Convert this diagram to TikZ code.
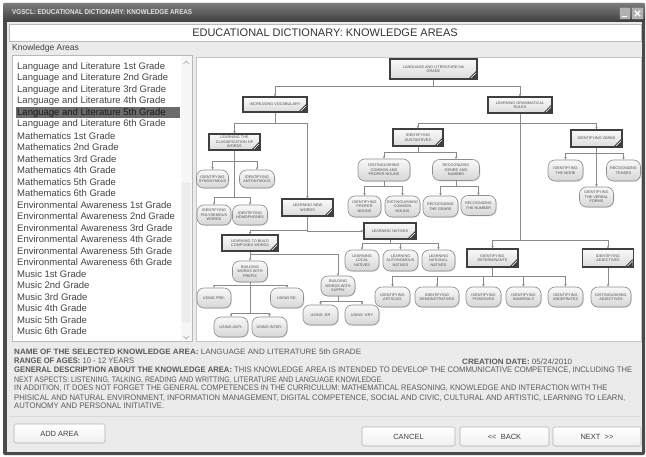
\documentclass[tikz,border=0pt]{standalone}
\usepackage{fontspec}
\usepackage{graphicx}
\setmainfont{Liberation Sans}
\usetikzlibrary{arrows.meta,shadows}
\definecolor{winbg}{HTML}{EBEBEB}
\definecolor{frame}{HTML}{4A4A4A}
\definecolor{boxline}{HTML}{3F3F3F}
\definecolor{pillline}{HTML}{8E8E8E}
\definecolor{conncol}{HTML}{8A8A8A}
\definecolor{dtext}{HTML}{505050}
\definecolor{listtext}{HTML}{454545}
\definecolor{infotext}{HTML}{5A5A5A}
\newcommand{\dfont}{\fontsize{3.8}{4.4}\selectfont}
\begin{document}
\begin{tikzpicture}[x=1pt,y=-1pt,
  box/.style={draw=boxline, line width=1.2pt, top color=gray!4, bottom color=gray!28,
    inner sep=0pt, font=\dfont, align=center, text=dtext,
    path picture={
      \fill[boxline] ([xshift=-1pt,yshift=1pt]path picture bounding box.south east) -- ++(-7pt,0pt) -- ++(7pt,7pt) -- cycle;
      \draw[white,line width=0.5pt] ([xshift=-6pt,yshift=1pt]path picture bounding box.south east) -- ([xshift=-1pt,yshift=6pt]path picture bounding box.south east);
    }},
  pill/.style={draw=pillline, line width=0.6pt, rounded corners=7pt, top color=gray!5, bottom color=gray!32,
    inner sep=0pt, minimum width=34pt, minimum height=20pt, font=\dfont, align=center, text=dtext,
    drop shadow={opacity=0.25, shadow xshift=0.8pt, shadow yshift=-0.8pt}},
  arr/.style={draw=conncol, line width=0.6pt, -{Stealth[length=2.6pt,width=2.4pt]}},
  btn/.style={draw=gray!60, line width=0.6pt, rounded corners=1.5pt, top color=white, bottom color=gray!12,
    inner sep=0pt, font=\fontsize{7.5}{9}\selectfont, text=black!75},
  listitem/.style={anchor=west, inner sep=0pt, font=\fontsize{9.5}{11}\selectfont, text=listtext},
  info/.style={anchor=base west, inner sep=0pt, text=infotext}
]
\useasboundingbox (0,0) rectangle (646,457);
% window frame
\fill[white] (0,0) rectangle (646,457);
\fill[frame, rounded corners=2pt] (3,3) rectangle (645,455);
\shade[top color=black!52, bottom color=black!75] (3.5,3.5) rectangle (644.5,21.5);
\fill[winbg] (7,22) rectangle (642,452);
\node[anchor=west, inner sep=0pt, text=white!88!black] (title) at (12,12.5)
  {\resizebox{180pt}{5pt}{\textbf{VGSCL: EDUCATIONAL DICTIONARY: KNOWLEDGE AREAS}}};
% title buttons
\node[draw=gray!40, fill=gray!62, rounded corners=1pt, minimum width=10pt, minimum height=11pt, inner sep=0pt] (minb) at (625,13.5) {};
\node[draw=gray!40, fill=gray!62, rounded corners=1pt, minimum width=11pt, minimum height=11pt, inner sep=0pt] (closeb) at (637.5,13.5) {};
\draw[white, line width=1.2pt] ([xshift=2pt,yshift=2.5pt]minb.south west) -- ([xshift=-3pt,yshift=2.5pt]minb.south east);
\draw[white, line width=1.2pt] ([xshift=3pt,yshift=3pt]closeb.south west) -- ([xshift=-3pt,yshift=-3pt]closeb.north east);
\draw[white, line width=1.2pt] ([xshift=3pt,yshift=-3pt]closeb.north west) -- ([xshift=-3pt,yshift=3pt]closeb.south east);
% heading
\node[draw=gray!55, fill=white, minimum width=632pt, minimum height=17pt, inner sep=0pt,
  font=\fontsize{11}{13}\selectfont, text=black!80] (head) at (325,32.5) {EDUCATIONAL DICTIONARY: KNOWLEDGE AREAS};
\node[anchor=west, inner sep=0pt, font=\fontsize{8.5}{10}\selectfont, text=black!75] (kalabel) at (12,48.5) {Knowledge Areas};
% list box
\draw[gray!55, fill=white] (12,55) rectangle (192,341);
\fill[gray!6] (181,56) rectangle (191.5,340.5);
\draw[gray!25, fill=gray!14, rounded corners=1pt] (182.5,183) rectangle (190,322);
\draw[gray!60, line width=0.7pt] (183.5,64) -- (186.3,61) -- (189,64);
\draw[gray!60, line width=0.7pt] (183.5,336) -- (186.3,339) -- (189,336);
\fill[black!58] (16,107) rectangle (180,118);
\foreach \t [count=\i] in {Language and Literature 1st Grade,Language and Literature 2nd Grade,Language and Literature 3rd Grade,Language and Literature 4th Grade,Language and Literature 5th Grade,Language and Literature 6th Grade,Mathematics 1st Grade,Mathematics 2nd Grade,Mathematics 3rd Grade,Mathematics 4th Grade,Mathematics 5th Grade,Mathematics 6th Grade,Environmental Awareness 1st Grade,Environmental Awareness 2nd Grade,Environmental Awareness 3rd Grade,Environmental Awareness 4th Grade,Environmental Awareness 5th Grade,Environmental Awareness 6th Grade,Music 1st Grade,Music 2nd Grade,Music 3rd Grade,Music 4th Grade,Music 5th Grade,Music 6th Grade}
  \node[listitem] (li\i) at (17,{66.7+(\i-1)*11.5}) {\t};
\node[listitem, text=black!85] (lisel) at (17,112.7) {Language and Literature 5th Grade};
% diagram panel
\draw[gray!45, fill=white] (196,57) rectangle (641,341);

% ---- rectangular boxes
\node[box, minimum width=87pt, minimum height=20pt] (root) at (433.5,69) {LANGUAGE AND LITERATURE 5th\\GRADE};
\node[box, minimum width=64pt, minimum height=15pt] (incvoc) at (275,104.5) {INCREASING VOCABULARY};
\node[box, minimum width=64pt, minimum height=16pt] (gram) at (520,105) {LEARNING GRAMMATICAL\\RULES};
\node[box, minimum width=51pt, minimum height=16pt] (classif) at (234.5,142) {LEARNING THE\\CLASSIFICATION OF\\WORDS};
\node[box, minimum width=51pt, minimum height=17pt] (newwords) at (307.5,207.5) {LEARNING NEW\\WORDS};
\node[box, minimum width=56pt, minimum height=16pt] (build) at (250,243) {LEARNING TO BUILD\\COMPOSED WORDS};
\node[box, minimum width=52pt, minimum height=16pt] (natives) at (390,231) {LEARNING NATIVES};
\node[box, minimum width=50pt, minimum height=17pt] (sust) at (418,137.5) {IDENTIFYING\\SUSTANTIVES};
\node[box, minimum width=51pt, minimum height=17pt] (verbs) at (596.5,138.5) {IDENTIFYING VERBS};
\node[box, minimum width=51pt, minimum height=18pt] (determ) at (492.5,258) {IDENTIFYING\\DETERMINANTS};
\node[box, minimum width=51pt, minimum height=18pt] (adject) at (608,258) {IDENTIFYING\\ADJECTIVES};

% ---- pills
\node[pill, minimum width=32pt, minimum height=18pt] (syn) at (212.5,179) {IDENTIFYING\\SYNONYMOUS};
\node[pill, minimum width=35pt, minimum height=18pt] (ant) at (257,179) {IDENTIFYING\\ANTONYMOUS};
\node[pill] (poly) at (214,215) {IDENTIFYING\\POLYSEMOUS\\WORDS};
\node[pill, minimum width=35pt] (homo) at (250,215) {IDENTIFYING\\HOMOPHONES};
\node[pill, minimum width=35pt, minimum height=21pt] (prefix) at (250,271.5) {BUILDING\\WORDS WITH\\PREFIX};
\node[pill] (suffix) at (338,286) {BUILDING\\WORDS WITH\\SUFFIX};
\node[pill] (pre) at (214,298) {USING PRE-};
\node[pill, minimum width=33pt] (re) at (287,298) {USING RE-};
\node[pill] (anti) at (231,327) {USING ANTI-};
\node[pill, minimum width=35pt] (inter) at (269.5,327) {USING INTER-};
\node[pill, minimum width=35pt] (er) at (320.5,315) {USING -ER};
\node[pill] (ery) at (362,315) {USING -ERY};
\node[pill, minimum height=21pt] (nloc) at (362,260.5) {LEARNING\\LOCAL\\NATIVES};
\node[pill, minimum width=35pt, minimum height=21pt] (naut) at (400.5,260.5) {LEARNING\\AUTONOMOUS\\NATIVES};
\node[pill, minimum width=33pt, minimum height=21pt] (nnat) at (438.5,260.5) {LEARNING\\NATIONAL\\NATIVES};
\node[pill, minimum width=52pt, minimum height=22pt] (cpn) at (384,170) {DISTINGUISHING\\COMMON AND\\PROPER NOUNS};
\node[pill, minimum width=47pt, minimum height=21pt] (grn) at (456,170) {RECOGNIZING\\GENRE AND\\NUMBER};
\node[pill, minimum width=33pt, minimum height=21pt] (propn) at (364.5,206.5) {IDENTIFYING\\PROPER\\NOUNS};
\node[pill, minimum width=35pt, minimum height=21pt] (comn) at (402.5,206.5) {DISTINGUISHING\\COMMON\\NOUNS};
\node[pill, minimum width=35pt, minimum height=21pt] (tgen) at (440.5,206.5) {RECOGNIZING\\THE GENRE};
\node[pill, minimum width=35pt] (tnum) at (478.5,205.5) {RECOGNIZING\\THE NUMBER};
\node[pill, minimum width=35pt, minimum height=21pt] (mode) at (565.5,170.5) {IDENTIFYING\\THE MODE};
\node[pill, minimum height=21pt] (tens) at (623.5,170.5) {RECOGNIZING\\TENSES};
\node[pill] (verbal) at (596.5,197) {IDENTIFYING\\THE VERBAL\\FORMS};
\node[pill, minimum width=35pt] (art) at (392.5,297) {IDENTIFYING\\ARTICLES};
\node[pill, minimum width=44pt] (dem) at (437,297) {IDENTIFYING\\DEMONSTRATIVES};
\node[pill, minimum width=35pt] (pos) at (483.5,297) {IDENTIFYING\\POSESIVES};
\node[pill, minimum width=35pt] (num) at (523.5,297) {IDENTIFYING\\NUMERALS};
\node[pill, minimum width=35pt] (und) at (565.5,297) {IDENTIFYING\\UNDEFINITES};
\node[pill, minimum width=40pt] (dadj) at (611,297) {DISTINGUISHING\\ADJECTIVES};

% ---- connectors
\draw[arr] (root.south) -- ++(0,7) -| (incvoc.north);
\draw[arr] (root.south) -- ++(0,7) -| (gram.north);
\draw[arr] (incvoc.south) -- ++(0,11) -| (classif.north);
\draw[arr] (incvoc.south) -- ++(0,11) -| (newwords.north);
\draw[arr] (classif.south) -- ++(0,11) -| (syn.north);
\draw[arr] (classif.south) -- ++(0,11) -| (ant.north);
\draw[arr] (classif.south) -- ++(0,47) -| (poly.north);
\draw[arr] (classif.south) -- ++(0,47) -| (homo.north);
\draw[arr] (newwords.south) -- ++(0,14) -| (build.north);
\draw[arr] (newwords.south) |- (natives.west);
\draw[arr] (build.south) -- (prefix.north);
\draw[arr] (build.south) -- ++(0,3) -| (suffix.north);
\draw[arr] (prefix.south) -- ++(0,3) -| (pre.north);
\draw[arr] (prefix.south) -- ++(0,3) -| (re.north);
\draw[arr] (prefix.south) -- ++(0,31) -| (anti.north);
\draw[arr] (prefix.south) -- ++(0,31) -| (inter.north);
\draw[arr] (suffix.south) -- ++(0,5) -| (er.north);
\draw[arr] (suffix.south) -- ++(0,5) -| (ery.north);
\draw[arr] (natives.south) -- ++(0,4) -| (nloc.north);
\draw[arr] (natives.south) -- ++(0,4) -| (naut.north);
\draw[arr] (natives.south) -- ++(0,4) -| (nnat.north);
\draw[arr] (gram.south) -- ++(0,10) -| (sust.north);
\draw[arr] (gram.south) -- ++(0,10) -| (verbs.north);
\draw[arr] (gram.south) -- ++(0,127) -| (determ.north);
\draw[arr] (gram.south) -- ++(0,127) -| (adject.north);
\draw[arr] (sust.south) -- ++(0,6) -| (cpn.north);
\draw[arr] (sust.south) -- ++(0,6) -| (grn.north);
\draw[arr] (cpn.south) -- ++(0,5) -| (propn.north);
\draw[arr] (cpn.south) -- ++(0,5) -| (comn.north);
\draw[arr] (grn.south) -- ++(0,6) -| (tgen.north);
\draw[arr] (grn.south) -- ++(0,6) -| (tnum.north);
\draw[arr] (verbs.south) -- ++(0,6) -| (mode.north);
\draw[arr] (verbs.south) -- ++(0,6) -| (tens.north);
\draw[arr] (verbs.south) -- (verbal.north);
\draw[arr] (determ.south) -- ++(0,9) -| (art.north);
\draw[arr] (determ.south) -- ++(0,9) -| (dem.north);
\draw[arr] (determ.south) -- ++(0,9) -| (pos.north);
\draw[arr] (determ.south) -- ++(0,9) -| (num.north);
\draw[arr] (determ.south) -- ++(0,9) -| (und.north);
\draw[arr] (adject.south) -- (adject.south |- dadj.north);

% ---- info text
\node[info] (i1) at (14,355) {\resizebox{347pt}{5.6pt}{\textbf{NAME OF THE SELECTED KNOWLEDGE AREA:} LANGUAGE AND LITERATURE 5th GRADE}};
\node[info] (i2) at (14,364) {\resizebox{120pt}{5.6pt}{\textbf{RANGE OF AGES:} 10 - 12 YEARS}};
\node[info] (i2b) at (462,364) {\resizebox{110pt}{5.6pt}{\textbf{CREATION DATE:} 05/24/2010}};
\node[info] (i3) at (14,373) {\resizebox{618pt}{5.6pt}{\textbf{GENERAL DESCRIPTION ABOUT THE KNOWLEDGE AREA:} THIS KNOWLEDGE AREA IS INTENDED TO DEVELOP THE COMMUNICATIVE COMPETENCE, INCLUDING THE}};
\node[info] (i4) at (14,382) {\resizebox{369pt}{5.6pt}{NEXT ASPECTS: LISTENING, TALKING, READING AND WRITTING, LITERATURE AND LANGUAGE KNOWLEDGE.}};
\node[info] (i5) at (14,391) {\resizebox{593pt}{5.6pt}{IN ADDITION, IT DOES NOT FORGET THE GENERAL COMPETENCES IN THE CURRICULUM: MATHEMATICAL REASONING, KNOWLEDGE AND INTERACTION WITH THE}};
\node[info] (i6) at (14,400) {\resizebox{611pt}{5.6pt}{PHISICAL AND NATURAL ENVIRONMENT, INFORMATION MANAGEMENT, DIGITAL COMPETENCE, SOCIAL AND CIVIC, CULTURAL AND ARTISTIC, LEARNING TO LEARN,}};
\node[info] (i7) at (14,409) {\resizebox{150pt}{5.6pt}{AUTONOMY AND PERSONAL INITIATIVE.}};
\draw[gray!30] (9,416) -- (640,416);

% ---- buttons
\node[btn, minimum width=91pt, minimum height=19pt] (add) at (59.5,433.5) {ADD AREA};
\node[btn, minimum width=93pt, minimum height=19pt] (cancel) at (408.5,436.5) {CANCEL};
\node[btn, minimum width=89pt, minimum height=19pt] (back) at (504.5,436.5) {<\kern0pt<\ \ BACK};
\node[btn, minimum width=88pt, minimum height=19pt] (next) at (597,436.5) {NEXT \ >\kern0pt>};
\end{tikzpicture}
\end{document}
